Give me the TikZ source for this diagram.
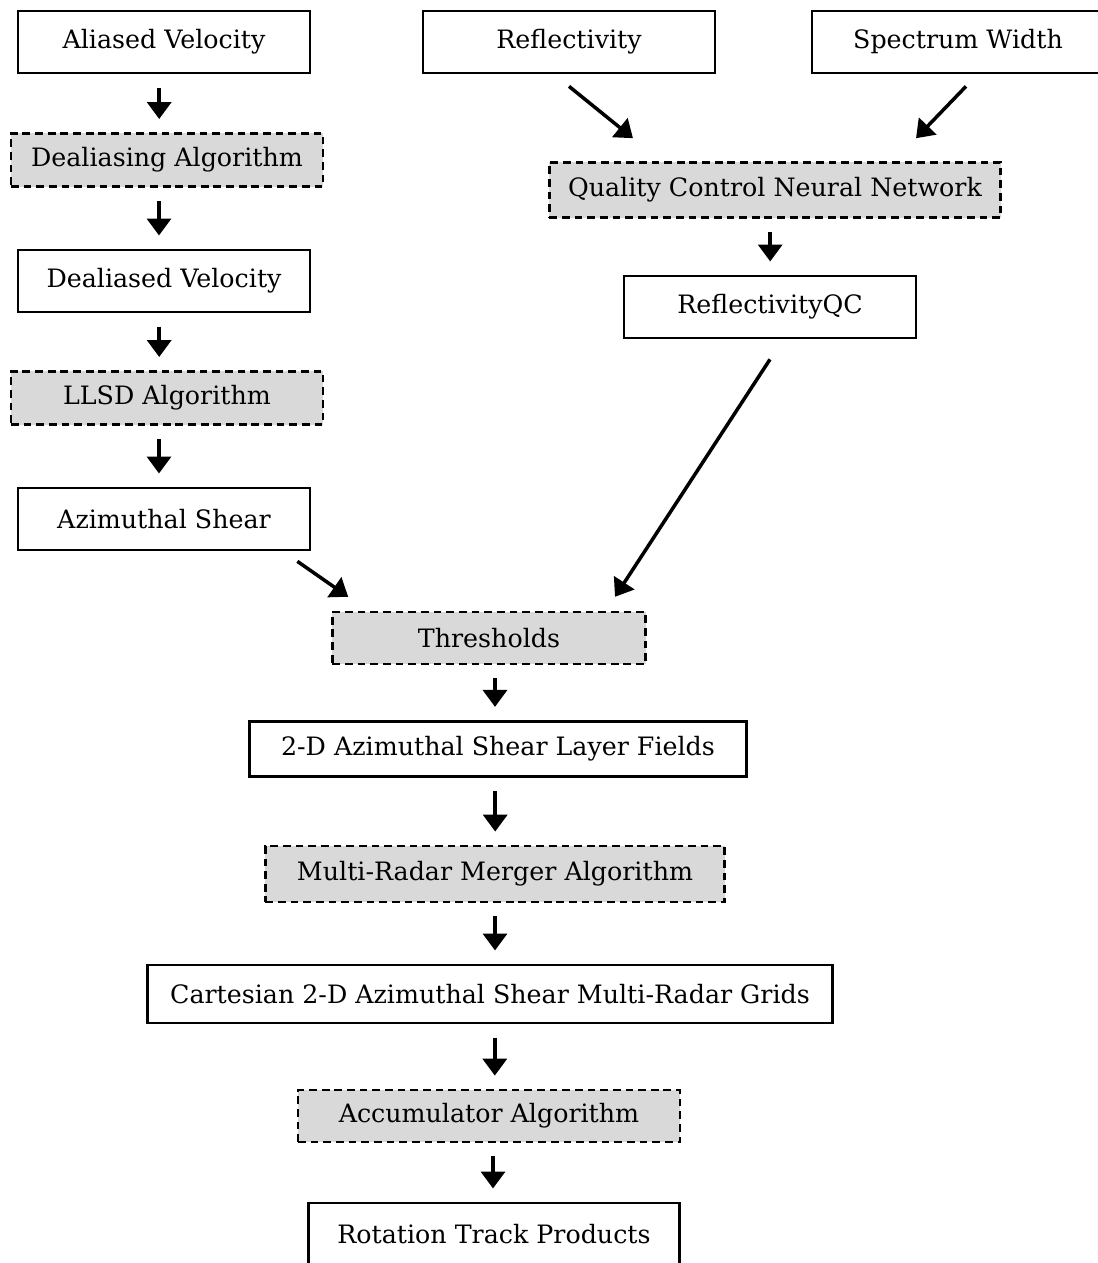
\documentclass[tikz,border=0pt]{standalone}
\usepackage{fontspec}
\setmainfont{DejaVu Serif}
\usepackage{tikz}
\usetikzlibrary{arrows.meta}

\begin{document}
\begin{tikzpicture}[
    x=0.025cm, y=-0.025cm,
    font=\fontsize{18}{21}\selectfont,
    data/.style={rectangle,draw,line width=1.9pt,align=center,minimum width=7.3cm,minimum height=1.55cm,inner sep=0pt},
    algo/.style={rectangle,draw,dashed,dash pattern=on 5.5pt off 3.5pt,fill=gray!30,line width=1.7pt,align=center,minimum height=1.33cm,inner sep=0pt},
    arrow/.style={-{Triangle[length=12pt,width=17pt]},line width=2.5pt},
    gap/.style={shorten <=0.33cm,shorten >=0.33cm}
]
\clip (0,0) rectangle (1098,1263);

% 左侧速度支路
\node[data] (alv) at (164,42) {Aliased Velocity};
\node[algo,minimum width=7.8cm] (dea) at (167,160) {Dealiasing Algorithm};
\node[data] (dlv) at (164,281) {Dealiased Velocity};
\node[algo,minimum width=7.8cm] (llsd) at (167,398) {LLSD Algorithm};
\node[data] (azs) at (164,519) {Azimuthal Shear};

% 右侧反射率支路
\node[data] (refl) at (569,42) {Reflectivity};
\node[data] (spw) at (958,42) {Spectrum Width};
\node[algo,minimum width=11.28cm,minimum height=1.38cm] (qcnn) at (775,190) {Quality Control Neural Network};
\node[data] (rqc) at (770,307) {ReflectivityQC};

% 中间主干道
\node[algo,minimum width=7.83cm,minimum height=1.3cm] (thr) at (489,638) {Thresholds};
\node[data,minimum width=12.43cm,minimum height=1.38cm] (layer) at (498,749) {2-D Azimuthal Shear Layer Fields};
\node[algo,minimum width=11.48cm,minimum height=1.4cm] (mrm) at (495,874) {Multi-Radar Merger Algorithm};
\node[data,minimum width=17.13cm,minimum height=1.45cm] (cart) at (490,994) {Cartesian 2-D Azimuthal Shear Multi-Radar Grids};
\node[algo,minimum width=9.55cm,minimum height=1.3cm] (acc) at (489,1116) {Accumulator Algorithm};
\node[data,minimum width=9.28cm] (rtp) at (494,1234) {Rotation Track Products};

% 左侧连线
\draw[arrow,gap] ([xshift=-0.12cm]alv.south) -- ([xshift=-0.12cm]alv.south |- dea.north);
\draw[arrow,gap] ([xshift=-0.2cm]dea.south) -- ([xshift=-0.2cm]dea.south |- dlv.north);
\draw[arrow,gap] ([xshift=-0.12cm]dlv.south) -- ([xshift=-0.12cm]dlv.south |- llsd.north);
\draw[arrow,gap] ([xshift=-0.2cm]llsd.south) -- ([xshift=-0.2cm]llsd.south |- azs.north);

% 右侧连线
\draw[arrow] ([yshift=-0.3cm]refl.south) -- ([xshift=-3.55cm,yshift=0.575cm]qcnn.north);
\draw[arrow] ([xshift=0.2cm,yshift=-0.3cm]spw.south) -- ([xshift=3.525cm,yshift=0.575cm]qcnn.north);
\draw[arrow,gap] ([xshift=-0.12cm]qcnn.south) -- ([xshift=-0.12cm]qcnn.south |- rqc.north);

% 两支汇入阈值
\draw[arrow] ([xshift=-0.35cm,yshift=-0.25cm]azs.south east) -- ([xshift=0.425cm,yshift=0.35cm]thr.north west);
\draw[arrow] ([yshift=-0.5cm]rqc.south) -- ([xshift=3.15cm,yshift=0.35cm]thr.north);

% 主干道连线
\draw[arrow,gap] ([xshift=0.15cm]thr.south) -- ([xshift=0.15cm]thr.south |- layer.north);
\draw[arrow,gap] ([xshift=-0.07cm]layer.south) -- ([xshift=-0.07cm]layer.south |- mrm.north);
\draw[arrow,gap] (mrm.south) -- (mrm.south |- cart.north);
\draw[arrow,gap] ([xshift=0.12cm]cart.south) -- ([xshift=0.12cm]cart.south |- acc.north);
\draw[arrow,gap] ([xshift=0.1cm]acc.south) -- ([xshift=0.1cm]acc.south |- rtp.north);

\end{tikzpicture}
\end{document}
